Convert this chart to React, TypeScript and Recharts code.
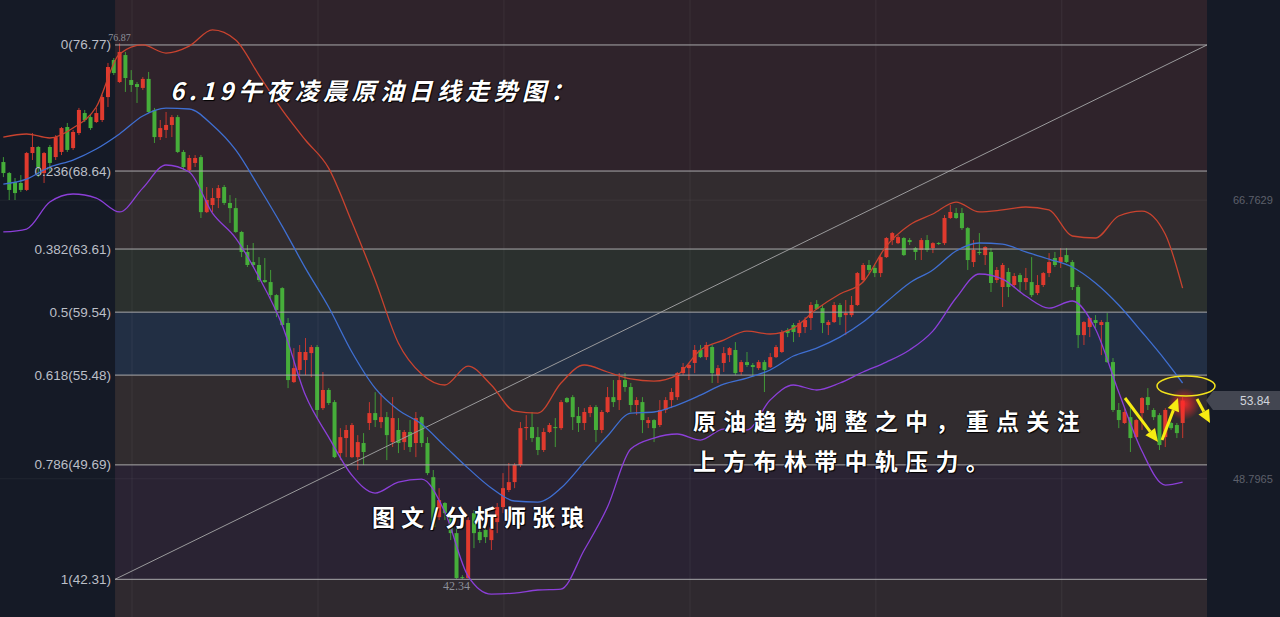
import {
  ComposedChart,
  Bar,
  Line,
  XAxis,
  YAxis,
  ReferenceLine,
  ReferenceArea,
  ReferenceDot,
} from 'recharts';

// daily candles, oldest first (red = up, green = down)
const opens = [
  69.22, 68.51, 67.93, 67.87, 67.42, 69.8, 70.19, 68.51, 70.19, 69.54,
  69.87, 71.48, 70.12, 71.09, 72.38, 72.12, 71.8, 71.93, 73.41, 75.8,
  74.38, 76.12, 74.51, 74.25, 74.0, 74.58, 72.58, 70.83, 71.29, 71.61,
  72.12, 69.87, 68.71, 69.16, 69.54, 65.99, 66.45, 66.9, 67.61, 66.58,
  66.25, 64.71, 63.42, 62.77, 62.58, 61.61, 61.48, 60.64, 61.09, 58.84,
  55.03, 55.81, 56.45, 56.9, 57.29, 53.35, 54.52, 53.74, 50.45, 51.42,
  50.19, 50.19, 51.1, 52.39, 53.03, 52.45, 52.77, 51.16, 51.94, 51.16,
  51.81, 51.1, 52.77, 51.1, 48.9, 46.32, 47.23, 46.32, 45.29, 42.45,
  42.39, 46.58, 45.36, 45.49, 44.84, 46.0, 46.97, 48.07, 48.58, 49.68,
  52.06, 52.13, 51.48, 50.65, 51.81, 52.13, 52.06, 54.0, 54.06, 52.84,
  52.39, 53.03, 53.42, 51.94, 53.1, 54.06, 53.87, 55.16, 54.71, 53.55,
  53.74, 52.39, 52.58, 52.26, 53.23, 53.87, 54.06, 55.61, 55.93, 56.26,
  57.1, 56.64, 57.29, 55.48, 56.26, 56.77, 57.1, 55.68, 56.32, 56.13,
  55.93, 56.32, 55.99, 56.64, 56.97, 58.39, 58.71, 58.19, 58.58, 59.16,
  60.06, 59.8, 58.71, 58.9, 60.0, 59.35, 59.35, 60.0, 61.61, 62.58,
  62.39, 62.06, 63.09, 64.19, 63.99, 64.32, 64.19, 63.67, 63.55, 64.19,
  63.67, 64.0, 63.99, 65.61, 65.93, 65.93, 64.96, 62.77, 63.42, 63.22,
  63.42, 61.61, 61.16, 62.13, 61.29, 61.93, 61.48, 61.48, 60.77, 61.29,
  62.06, 63.03, 62.77, 63.22, 62.77, 61.16, 58.06, 58.58, 59.03, 58.71,
  58.9, 56.32, 53.23, 52.39, 52.77, 51.48, 53.03, 54.06, 53.23, 52.9,
  51.48, 52.39, 52.26, 52.39,
];
const closes = [
  68.51, 67.42, 67.22, 67.42, 69.8, 70.19, 68.9, 69.8, 69.16, 70.83,
  71.41, 70.0, 71.16, 72.58, 71.93, 71.41, 72.38, 73.41, 75.35, 74.96,
  76.32, 74.64, 74.19, 74.06, 74.58, 72.45, 70.83, 71.41, 71.61, 72.12,
  69.87, 68.9, 69.48, 69.48, 65.99, 66.77, 66.9, 67.54, 66.58, 66.25,
  64.71, 63.42, 62.58, 62.58, 61.61, 61.48, 60.64, 59.68, 58.71, 55.16,
  55.93, 56.97, 56.97, 57.29, 53.23, 54.52, 53.68, 50.19, 51.48, 51.94,
  52.26, 51.16, 50.52, 53.03, 52.58, 52.77, 51.61, 52.71, 51.1, 51.81,
  50.84, 52.71, 51.1, 49.16, 45.68, 47.42, 46.58, 45.29, 42.39, 42.39,
  46.13, 45.29, 44.84, 45.03, 45.68, 46.97, 48.19, 48.58, 49.68, 52.06,
  52.13, 51.42, 50.65, 51.81, 52.26, 52.06, 53.74, 53.74, 52.77, 52.39,
  53.1, 53.42, 51.94, 53.1, 54.06, 53.74, 55.16, 54.71, 53.55, 53.87,
  52.58, 52.58, 52.06, 53.23, 53.87, 54.39, 55.61, 56.0, 56.13, 57.1,
  56.64, 57.42, 55.61, 55.93, 56.9, 57.22, 55.61, 56.32, 56.13, 56.0,
  56.32, 55.81, 56.64, 57.29, 58.26, 58.19, 58.26, 58.84, 59.03, 60.0,
  59.74, 58.84, 58.9, 60.0, 59.22, 59.48, 60.0, 62.06, 62.58, 62.26,
  62.06, 63.09, 64.32, 64.64, 64.38, 63.22, 64.06, 63.42, 64.19, 63.55,
  63.99, 63.94, 65.61, 66.0, 65.61, 64.96, 62.9, 63.55, 63.35, 63.74,
  61.42, 62.26, 62.58, 61.16, 61.87, 61.48, 61.74, 60.64, 61.29, 62.06,
  62.77, 62.58, 63.09, 62.77, 61.16, 58.06, 58.9, 59.16, 58.84, 58.9,
  56.32, 53.23, 52.58, 53.1, 51.42, 52.58, 54.0, 53.55, 52.77, 50.97,
  53.23, 52.06, 51.74, 53.84,
];
const highs = [
  69.54, 68.58, 68.19, 68.38, 69.87, 71.09, 70.25, 69.87, 70.32, 70.96,
  71.48, 71.74, 71.29, 72.71, 72.58, 72.25, 72.71, 73.54, 75.61, 75.93,
  76.87, 76.32, 75.15, 74.38, 74.7, 75.03, 72.71, 71.93, 72.45, 72.25,
  72.25, 70.0, 69.67, 69.67, 69.67, 67.61, 67.54, 67.74, 67.74, 67.09,
  66.9, 64.78, 63.87, 64.0, 63.09, 63.03, 62.26, 60.7, 61.15, 59.16,
  57.22, 57.42, 57.87, 57.42, 57.42, 55.68, 54.64, 53.87, 52.06, 52.26,
  52.39, 51.61, 51.74, 53.74, 54.38, 54.32, 53.1, 54.06, 52.71, 51.94,
  52.58, 53.1, 52.83, 51.48, 49.36, 48.19, 47.29, 46.78, 45.68, 42.58,
  46.32, 46.78, 46.0, 45.93, 46.0, 47.23, 49.16, 49.81, 49.81, 52.45,
  52.9, 53.1, 52.13, 52.06, 52.39, 52.71, 53.87, 54.06, 54.19, 53.42,
  53.35, 53.55, 53.55, 53.23, 54.71, 55.16, 55.61, 55.61, 54.97, 54.06,
  54.06, 52.77, 52.64, 53.87, 54.06, 54.64, 55.68, 56.26, 56.26, 57.42,
  57.42, 57.61, 57.42, 56.13, 57.29, 57.29, 57.61, 56.45, 56.97, 56.26,
  56.45, 56.45, 56.9, 57.42, 58.39, 58.51, 58.84, 59.03, 59.22, 60.19,
  60.32, 60.0, 59.03, 60.19, 60.13, 60.32, 60.58, 62.13, 62.71, 62.9,
  62.58, 63.22, 64.38, 64.71, 64.51, 64.38, 64.32, 63.74, 64.32, 64.51,
  64.05, 64.06, 65.8, 66.45, 66.26, 66.26, 65.03, 64.19, 64.64, 63.8,
  63.67, 62.45, 62.71, 62.39, 62.06, 62.06, 62.39, 63.09, 61.93, 62.13,
  63.35, 63.42, 63.67, 63.67, 62.9, 61.29, 58.96, 59.22, 59.35, 59.03,
  59.48, 56.58, 53.68, 53.35, 53.68, 52.64, 54.06, 54.64, 53.35, 53.03,
  53.35, 52.45, 52.39, 54.06,
];
const lows = [
  68.25, 66.77, 66.77, 67.29, 67.35, 69.35, 68.25, 67.87, 68.51, 69.35,
  69.67, 69.87, 70.0, 70.96, 71.8, 71.29, 71.74, 71.8, 72.77, 74.83,
  74.32, 73.74, 73.74, 73.03, 73.87, 72.38, 70.45, 70.64, 70.77, 70.83,
  69.8, 68.71, 68.58, 68.9, 65.61, 65.93, 66.0, 66.25, 66.45, 65.29,
  64.65, 63.09, 62.45, 62.45, 61.48, 61.42, 60.32, 59.22, 58.65, 54.64,
  54.97, 55.48, 55.48, 55.35, 52.71, 53.23, 53.55, 50.13, 50.0, 50.19,
  50.13, 49.36, 49.68, 51.94, 52.13, 52.06, 50.0, 50.84, 50.45, 50.65,
  50.52, 50.19, 50.84, 49.03, 45.62, 46.13, 46.13, 44.84, 42.34, 42.33,
  42.36, 44.32, 44.65, 44.65, 44.2, 45.29, 46.58, 47.94, 48.19, 49.55,
  51.29, 51.16, 50.32, 50.52, 51.74, 50.84, 51.94, 53.68, 51.94, 51.81,
  51.94, 52.77, 51.16, 51.74, 53.03, 53.42, 53.23, 54.4, 53.1, 52.9,
  51.74, 52.06, 51.16, 52.13, 53.03, 53.35, 53.87, 55.48, 55.16, 55.61,
  56.58, 56.45, 54.97, 54.97, 55.68, 56.32, 55.48, 55.48, 56.0, 55.35,
  55.81, 54.39, 55.93, 56.58, 56.9, 57.93, 57.61, 57.93, 58.19, 58.39,
  59.68, 58.19, 58.06, 58.84, 58.71, 58.06, 59.22, 59.94, 61.48, 62.06,
  61.8, 61.8, 63.03, 63.87, 63.93, 63.16, 63.87, 62.9, 62.9, 63.42,
  63.35, 63.87, 63.87, 65.55, 65.55, 64.84, 62.26, 62.45, 63.22, 62.58,
  60.84, 61.42, 59.87, 60.51, 61.09, 60.84, 60.97, 60.51, 60.64, 61.16,
  61.8, 62.45, 62.39, 62.71, 60.97, 57.22, 57.42, 57.93, 58.51, 56.77,
  56.26, 53.1, 52.06, 52.33, 50.52, 51.42, 51.94, 53.23, 52.58, 50.65,
  50.84, 51.94, 51.42, 51.42,
];

// Bollinger bands read every 4th candle
const bandIdx = [
  0, 4, 8, 12, 16, 20, 24, 28, 32, 36, 40, 44, 48, 52, 56, 60, 64, 68, 72, 76,
  80, 84, 88, 92, 96, 100, 104, 108, 112, 116, 120, 124, 128, 132, 136, 140,
  144, 148, 152, 156, 160, 164, 168, 172, 176, 180, 184, 188, 192, 196, 200, 203,
];
const upperBand = [
  70.83, 71.03, 70.77, 71.41, 72.77, 76.19, 76.77, 76.25, 76.7, 77.74,
  77.09, 74.83, 72.58, 70.64, 68.83, 65.35, 61.61, 57.55, 55.55, 54.84,
  56.06, 54.84, 53.16, 53.03, 54.97, 56.13, 55.68, 55.23, 55.09, 55.48,
  57.1, 57.74, 58.32, 58.13, 58.51, 59.74, 60.71, 61.48, 63.8, 65.16,
  65.87, 66.64, 66.0, 66.13, 66.32, 66.13, 64.45, 64.32, 65.74, 66.06,
  64.58, 61.09,
];
const midBand = [
  67.8, 68.12, 68.9, 69.35, 70.06, 71.03, 72.19, 72.7, 72.64, 71.61,
  70.0, 67.61, 65.09, 62.38, 59.87, 56.97, 54.64, 53.23, 52.32, 50.9,
  49.48, 48.2, 47.36, 47.29, 48.2, 49.87, 51.55, 53.03, 53.1, 53.55,
  54.19, 54.9, 55.29, 55.81, 56.71, 57.22, 57.93, 58.9, 60.19, 61.42,
  62.26, 63.48, 64.0, 63.93, 63.42, 62.96, 62.45, 61.42, 60.0, 58.26,
  56.45, 54.97,
];
const lowerBand = [
  64.71, 64.9, 66.64, 67.16, 66.9, 66.0, 67.54, 69.03, 68.58, 65.93,
  64.32, 61.8, 58.71, 54.19, 51.48, 49.03, 47.87, 48.58, 48.77, 46.65,
  42.52, 41.36, 41.42, 41.62, 41.68, 44.2, 46.97, 50.71, 51.42, 51.68,
  51.29, 52.0, 51.94, 53.87, 54.84, 54.52, 54.97, 55.68, 56.32, 57.1,
  58.32, 60.45, 62.0, 61.67, 60.58, 59.8, 60.26, 58.45, 54.39, 50.58,
  48.39, 48.58,
];

const fibRatios = ['0', '0.236', '0.382', '0.5', '0.618', '0.786', '1'];
const fibPrices = [76.77, 68.64, 63.61, 59.54, 55.48, 49.69, 42.31];
const zoneColors = [
  '#2f232b', '#2f232b', '#322c2f', '#2b302e', '#222f44', '#312c2f', '#2a2333', '#2f292f',
];
const axisTicks = [66.7629, 48.7965];
const gridIdx = [22.15, 54.17, 86.18, 118.2, 150.2, 182.2];
const lastPrice = 53.84;
const peak = { i: 20, price: 76.87 };
const trough = { i: 78, price: 42.34 };

const Y_MIN = 39.88;
const Y_MAX = 79.67;
const X_MIN = -0.57;
const X_MAX = 207.2;
const FIB_START = 19.23;

const RED = '#e03a2e';
const GREEN = '#46ae3a';

const rows = opens.map((o, i) => ({ i, o, c: closes[i], h: highs[i], l: lows[i] }));
const bandRows = bandIdx.map((i, k) => ({
  i,
  upper: upperBand[k],
  mid: midBand[k],
  lower: lowerBand[k],
}));

const bounds = [Y_MAX, ...fibPrices, Y_MIN];

const Candle = (props: any) => {
  const { x, y, width, height, payload } = props;
  if (x == null || payload == null) return null;
  const { o, c, h, l } = payload;
  const color = c >= o ? RED : GREEN;
  const top = Math.min(y, y + height);
  const span = Math.abs(height);
  const range = h - l || 1;
  const toY = (v: number) => top + ((h - v) / range) * span;
  const cx = x + width / 2;
  const bTop = toY(Math.max(o, c));
  const bBot = toY(Math.min(o, c));
  return (
    <g>
      <line x1={cx} x2={cx} y1={top} y2={top + span} stroke={color} strokeWidth={1} opacity={0.85} />
      <rect x={cx - 2} y={bTop} width={4} height={Math.max(1, bBot - bTop)} fill={color} />
    </g>
  );
};

const FibLabel = (props: any) => {
  const { viewBox, text } = props;
  if (!viewBox) return null;
  return (
    <text
      x={viewBox.x - 4}
      y={viewBox.y}
      textAnchor="end"
      dominantBaseline="central"
      fill="#bcbfc7"
      fontSize={13.5}
      fontFamily="'Liberation Sans', Arial, sans-serif"
    >
      {text}
    </text>
  );
};

const PriceTag = (props: any) => {
  const { viewBox } = props;
  if (!viewBox) return null;
  const x = viewBox.x + viewBox.width;
  const y = viewBox.y;
  return (
    <g>
      <polygon
        points={`${x - 1},${y} ${x + 6},${y - 9.5} ${x + 73},${y - 9.5} ${x + 73},${y + 9.5} ${x + 6},${y + 9.5}`}
        fill="#434651"
      />
      <text
        x={x + 63}
        y={y}
        textAnchor="end"
        dominantBaseline="central"
        fill="#d1d4dc"
        fontSize={12}
        fontFamily="'Liberation Sans', Arial, sans-serif"
      >
        {lastPrice.toFixed(2)}
      </text>
    </g>
  );
};

const PriceTick = (props: any) => {
  const { x, y, payload } = props;
  return (
    <text
      x={x + 18}
      y={y}
      dominantBaseline="central"
      fill="#5d606b"
      fontSize={11}
      fontFamily="'Liberation Sans', Arial, sans-serif"
    >
      {payload.value}
    </text>
  );
};

const Arrow = ({ x1, y1, x2, y2 }: { x1: number; y1: number; x2: number; y2: number }) => {
  const a = Math.atan2(y2 - y1, x2 - x1);
  const len = 13;
  const half = 6;
  const bx = x2 - len * Math.cos(a);
  const by = y2 - len * Math.sin(a);
  const px = -Math.sin(a) * half;
  const py = Math.cos(a) * half;
  return (
    <g>
      <line x1={x1} y1={y1} x2={bx} y2={by} stroke="#f7ec12" strokeWidth={3} />
      <polygon points={`${x2},${y2} ${bx + px},${by + py} ${bx - px},${by - py}`} fill="#f7ec12" />
    </g>
  );
};

const textStyle = {
  position: 'absolute' as const,
  color: '#ffffff',
  fontFamily: "'Noto Sans CJK SC', sans-serif",
  fontWeight: 700,
  whiteSpace: 'nowrap' as const,
  textShadow: '1px 1px 1px #000, -1px 0 1px #000',
};

export default function App() {
  return (
    <div style={{ position: 'absolute', left: 0, top: 0, width: 1280, height: 617, background: '#151a26' }}>
      <ComposedChart width={1280} height={617} data={rows} margin={{ top: 0, right: 0, bottom: 0, left: 0 }}>
        <XAxis dataKey="i" type="number" domain={[X_MIN, X_MAX]} allowDataOverflow hide />
        <YAxis
          orientation="right"
          type="number"
          domain={[Y_MIN, Y_MAX]}
          allowDataOverflow
          width={73}
          ticks={axisTicks}
          axisLine={false}
          tickLine={false}
          tick={<PriceTick />}
        />

        {zoneColors.map((col, j) => (
          <ReferenceArea
            key={`z${j}`}
            x1={FIB_START}
            x2={X_MAX}
            y1={bounds[j + 1]}
            y2={bounds[j]}
            fill={col}
            fillOpacity={1}
            stroke="none"
          />
        ))}

        {axisTicks.map((t) => (
          <ReferenceLine key={`h${t}`} y={t} stroke="rgba(255,255,255,0.05)" />
        ))}
        {gridIdx.map((g) => (
          <ReferenceLine key={`v${g}`} x={g} stroke="rgba(255,255,255,0.06)" />
        ))}

        <ReferenceLine
          segment={[
            { x: FIB_START, y: fibPrices[6] },
            { x: X_MAX, y: fibPrices[0] },
          ]}
          stroke="#9a9a9c"
          strokeWidth={1}
        />

        {fibPrices.map((p, j) => (
          <ReferenceLine
            key={`f${j}`}
            segment={[
              { x: FIB_START, y: p },
              { x: X_MAX, y: p },
            ]}
            stroke="#a9a9ab"
            strokeWidth={1}
            label={<FibLabel text={`${fibRatios[j]}(${p.toFixed(2)})`} />}
          />
        ))}

        <Bar
          dataKey={(d: any) => [d.l, d.h]}
          barSize={4}
          shape={<Candle />}
          isAnimationActive={false}
        />

        <Line data={bandRows} dataKey="upper" type="monotone" stroke="#c9432f" strokeWidth={1.3} dot={false} activeDot={false} isAnimationActive={false} />
        <Line data={bandRows} dataKey="mid" type="monotone" stroke="#3f6fd2" strokeWidth={1.3} dot={false} activeDot={false} isAnimationActive={false} />
        <Line data={bandRows} dataKey="lower" type="monotone" stroke="#8c3fd9" strokeWidth={1.3} dot={false} activeDot={false} isAnimationActive={false} />

        <ReferenceDot
          x={peak.i}
          y={peak.price}
          r={0}
          fill="none"
          stroke="none"
          label={{ value: peak.price.toFixed(2), position: 'top', offset: 2, fill: '#8d909a', fontSize: 10 }}
        />
        <ReferenceDot
          x={trough.i}
          y={trough.price}
          r={0}
          fill="none"
          stroke="none"
          label={{ value: trough.price.toFixed(2), position: 'bottom', offset: 3, fill: '#8d909a', fontSize: 12 }}
        />
        <ReferenceLine y={lastPrice} stroke="none" label={<PriceTag />} />
      </ComposedChart>

      <svg
        width={1280}
        height={617}
        style={{ position: 'absolute', left: 0, top: 0, pointerEvents: 'none' }}
      >
        <defs>
          <radialGradient id="glow">
            <stop offset="0%" stopColor="#ff2a2a" stopOpacity={0.9} />
            <stop offset="100%" stopColor="#ff2a2a" stopOpacity={0} />
          </radialGradient>
        </defs>
        <circle cx={1184} cy={404} r={16} fill="url(#glow)" />
        <ellipse cx={1186} cy={386} rx={29} ry={10} fill="none" stroke="#f2e21c" strokeWidth={1.5} />
        <Arrow x1={1125} y1={398} x2={1158} y2={442} />
        <Arrow x1={1162} y1={440} x2={1178} y2={398} />
        <Arrow x1={1197} y1={399} x2={1210} y2={423} />
      </svg>

      <div style={{ ...textStyle, left: 170, top: 77, fontSize: 24, lineHeight: '26px', letterSpacing: 4.4, fontStyle: 'italic' }}>
        6.19午夜凌晨原油日线走势图：
      </div>
      <div style={{ ...textStyle, left: 693, top: 407, fontSize: 23, lineHeight: '26px', letterSpacing: 7.3 }}>
        原油趋势调整之中，重点关注
      </div>
      <div style={{ ...textStyle, left: 693, top: 447, fontSize: 23, lineHeight: '26px', letterSpacing: 7.3 }}>
        上方布林带中轨压力。
      </div>
      <div style={{ ...textStyle, left: 372, top: 503, fontSize: 23, lineHeight: '26px', letterSpacing: 6 }}>
        图文/分析师张琅
      </div>
    </div>
  );
}
